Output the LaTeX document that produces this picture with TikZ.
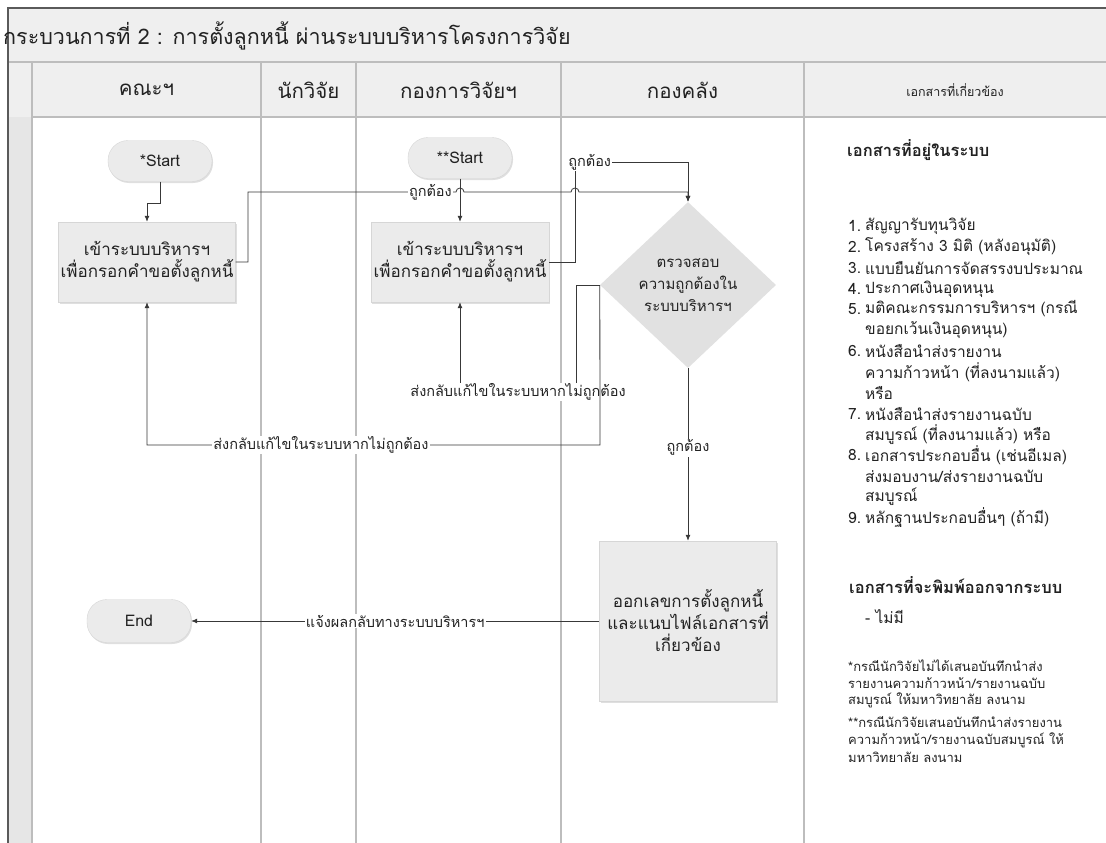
\documentclass[tikz,border=0pt]{standalone}
\usepackage{fontspec}
\setmainfont[Script=Thai]{Loma}
\usetikzlibrary{shapes.geometric,arrows.meta,shadows}

\definecolor{framec}{HTML}{5A5A5A}
\definecolor{barbg}{HTML}{EFEFEF}
\definecolor{gutterbg}{HTML}{E6E6E6}
\definecolor{laneline}{HTML}{BDBDBD}
\definecolor{boxfill}{HTML}{EBEBEB}
\definecolor{boxline}{HTML}{D6D6D6}
\definecolor{diafill}{HTML}{E1E1E1}
\definecolor{connc}{HTML}{383838}
\definecolor{txt}{HTML}{222222}

\begin{document}
\begin{tikzpicture}[x=1pt,y=-1pt,
  every node/.style={text=txt},
  lane/.style={draw=laneline,line width=1.3pt},
  hdr/.style={font=\fontsize{20.5}{23}\selectfont},
  pill/.style={draw=boxline,fill=boxfill,rounded corners=20pt,
    minimum width=104pt,minimum height=41pt,inner sep=2pt,
    font=\fontsize{16}{18}\selectfont,
    drop shadow={shadow xshift=1pt,shadow yshift=-1.5pt,opacity=0.25}},
  proc/.style={draw=boxline,fill=boxfill,align=center,inner sep=2pt,
    font=\fontsize{17}{22}\selectfont,
    drop shadow={shadow xshift=1pt,shadow yshift=-1.5pt,opacity=0.25}},
  dec/.style={diamond,fill=diafill,align=center,inner sep=0pt,aspect=1.06,
    minimum width=176pt,minimum height=166pt,
    font=\fontsize{15}{22}\selectfont},
  conn/.style={draw=connc,line width=0.8pt,-{Latex[length=6pt,width=5pt]}},
  lbl/.style={fill=white,inner sep=1pt,font=\fontsize{14.5}{16}\selectfont},
  head/.style={anchor=west,inner sep=0pt,font=\bfseries\fontsize{16.5}{18}\selectfont},
  li/.style={anchor=west,inner sep=0pt,font=\fontsize{15.5}{18}\selectfont},
  fnl/.style={anchor=west,inner sep=0pt,font=\fontsize{13}{14}\selectfont}]

\useasboundingbox (0,0) rectangle (1106,843);
\fill[white] (0,0) rectangle (1106,843);

% title bar, header row and left gutter
\fill[barbg] (8,8) rectangle (1106,62);
\fill[barbg] (8,62) rectangle (1106,117);
\fill[gutterbg] (8,117) rectangle (32,843);
\draw[lane] (8,62) -- (1106,62);
\draw[lane] (32,117) -- (1106,117);
\foreach \lx in {32,261,356,561,804}
  \draw[lane] (\lx,62) -- (\lx,843);
\draw[framec,line width=1.2pt] (8,843) -- (8,8) -- (1106,8);

\node[anchor=west,inner sep=0pt,font=\fontsize{21.5}{24}\selectfont] (title) at (3,36)
  {กระบวนการที่ 2 : การตั้งลูกหนี้ ผ่านระบบบริหารโครงการวิจัย};

% lane headers
\node[hdr] (h1) at (146.5,90) {คณะฯ};
\node[hdr] (h2) at (308.5,90) {นักวิจัย};
\node[hdr] (h3) at (458.5,90) {กองการวิจัยฯ};
\node[hdr] (h4) at (682.5,90) {กองคลัง};
\node[font=\fontsize{12.5}{14}\selectfont] (h5) at (955,90) {เอกสารที่เกี่ยวข้อง};

% flow nodes
\node[pill] (s1) at (160,161) {*Start};
\node[proc,minimum width=177pt,minimum height=80pt] (b1) at (147,262)
  {เข้าระบบบริหารฯ\\เพื่อกรอกคำขอตั้งลูกหนี้};
\node[pill] (s2) at (460,158) {**Start};
\node[proc,minimum width=178pt,minimum height=80pt] (b2) at (460,262)
  {เข้าระบบบริหารฯ\\เพื่อกรอกคำขอตั้งลูกหนี้};
\node[dec] (d) at (688,285) {ตรวจสอบ\\ความถูกต้องใน\\ระบบบริหารฯ};
\node[proc,minimum width=177pt,minimum height=160pt] (b3) at (688,621)
  {ออกเลขการตั้งลูกหนี้\\และแนบไฟล์เอกสารที่\\เกี่ยวข้อง};
\node[pill,minimum height=43pt] (e) at (139,621) {End};

% connectors
\draw[conn] (s1.south) -- ++(0,22) -| (b1.north);
\draw[conn] (b1.east) -| (248,192)
  -- node[lbl,pos=0.877]{ถูกต้อง} (456,192)
  arc[start angle=180,end angle=0,radius=4pt] -- (571,192)
  arc[start angle=180,end angle=0,radius=4pt] -- (688,192) -- (d.north);
\draw[conn] (s2) -- (b2);
\draw[conn] (b2.east) -| (575,162)
  -- node[lbl,pos=0.13]{ถูกต้อง} (688,162) -- (d.north);
\draw[conn] (d.west) -- (576,285) -- (576,392)
  -- node[lbl]{ส่งกลับแก้ไขในระบบหากไม่ถูกต้อง} (460,392) -- (b2.south);
\draw[conn] (d.west) -- (600,445)
  -- node[lbl,pos=0.616]{ส่งกลับแก้ไขในระบบหากไม่ถูกต้อง} (147,445) -- (b1.south);
\draw[conn] (d.south) -- node[lbl,pos=0.46]{ถูกต้อง} (b3.north);
\draw[conn] (b3.west) -- node[lbl]{แจ้งผลกลับทางระบบบริหารฯ} (e.east);

% documents column: documents already in the system
\node[head] (t1) at (847,150) {เอกสารที่อยู่ในระบบ};
\node[li] (n1) at (848,226) {1.};
\node[li] (r1) at (865,226) {สัญญารับทุนวิจัย};
\node[li] (n2) at (848,247) {2.};
\node[li] (r2) at (865,247) {โครงสร้าง 3 มิติ (หลังอนุมัติ)};
\node[li] (n3) at (848,268) {3.};
\node[li] (r3) at (865,268) {แบบยืนยันการจัดสรรงบประมาณ};
\node[li] (n4) at (848,289) {4.};
\node[li] (r4) at (865,289) {ประกาศเงินอุดหนุน};
\node[li] (n5) at (848,309) {5.};
\node[li] (r5) at (865,309) {มติคณะกรรมการบริหารฯ (กรณี};
\node[li] (r5b) at (865,330) {ขอยกเว้นเงินอุดหนุน)};
\node[li] (n6) at (848,351) {6.};
\node[li] (r6) at (865,351) {หนังสือนำส่งรายงาน};
\node[li] (r6b) at (865,372) {ความก้าวหน้า (ที่ลงนามแล้ว)};
\node[li] (r6c) at (865,393) {หรือ};
\node[li] (n7) at (848,414) {7.};
\node[li] (r7) at (865,414) {หนังสือนำส่งรายงานฉบับ};
\node[li] (r7b) at (865,435) {สมบูรณ์ (ที่ลงนามแล้ว) หรือ};
\node[li] (n8) at (848,455) {8.};
\node[li] (r8) at (865,455) {เอกสารประกอบอื่น (เช่นอีเมล)};
\node[li] (r8b) at (865,476) {ส่งมอบงาน/ส่งรายงานฉบับ};
\node[li] (r8c) at (865,497) {สมบูรณ์};
\node[li] (n9) at (848,518) {9.};
\node[li] (r9) at (865,518) {หลักฐานประกอบอื่นๆ (ถ้ามี)};

% documents printed from the system
\node[head] (t2) at (849,585) {เอกสารที่จะพิมพ์ออกจากระบบ};
\node[li] (none) at (865,617) {- ไม่มี};

% footnotes
\node[fnl] (f1) at (848,666) {*กรณีนักวิจัยไม่ได้เสนอบันทึกนำส่ง};
\node[fnl] (f2) at (848,683) {รายงานความก้าวหน้า/รายงานฉบับ};
\node[fnl] (f3) at (848,700) {สมบูรณ์ ให้มหาวิทยาลัย ลงนาม};
\node[fnl] (f4) at (848,722) {**กรณีนักวิจัยเสนอบันทึกนำส่งรายงาน};
\node[fnl] (f5) at (848,740) {ความก้าวหน้า/รายงานฉบับสมบูรณ์ ให้};
\node[fnl] (f6) at (848,757) {มหาวิทยาลัย ลงนาม};
\end{tikzpicture}
\end{document}
